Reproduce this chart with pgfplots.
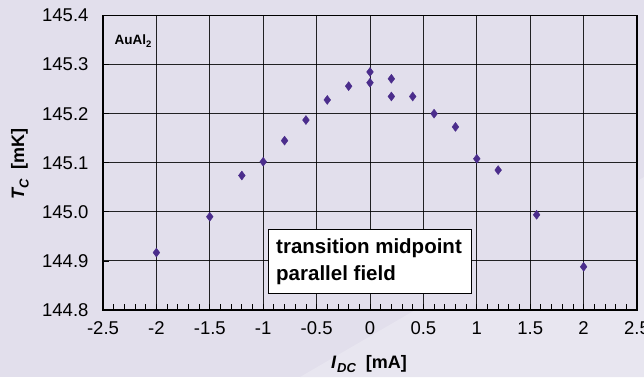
\documentclass[border=0pt]{standalone}
\usepackage{pgfplots}
\pgfplotsset{compat=1.18}
\usepackage{fontspec}
\setmainfont{Liberation Sans}
\definecolor{bg}{RGB}{226,223,236}
\definecolor{bglight}{RGB}{232,230,240}
\definecolor{mk}{RGB}{75,45,140}
\begin{document}
\begin{tikzpicture}
\path[use as bounding box] (0,0) rectangle (644pt,377pt);
\fill[bg] (0,0) rectangle (644pt,377pt);
\fill[bglight] (300pt,0pt) -- (644pt,0pt) -- (644pt,200pt) -- cycle;
\begin{axis}[
  at={(103pt,67pt)}, anchor=south west,
  width=534pt, height=294.5pt, scale only axis,
  xmin=-2.5, xmax=2.5, ymin=144.8, ymax=145.4,
  xtick={-2.5,-2,...,2.5},
  ytick={144.8,144.9,...,145.4},
  xticklabels={-2.5,-2,-1.5,-1,-0.5,0,0.5,1,1.5,2,2.5},
  yticklabels={144.8,144.9,145.0,145.1,145.2,145.3,145.4},
  minor x tick num=4, minor y tick num=4,
  xtick pos=bottom, ytick pos=left,
  tick align=inside,
  major tick length=6pt, minor tick length=6pt,
  every tick/.style={black, line width=0.8pt},
  grid=major,
  major grid style={black, line width=0.9pt, opacity=0.85},
  axis line style={black, line width=1.5pt},
  axis background/.style={fill=bg},
  tick label style={font=\fontsize{18.5}{20}\selectfont},
  /pgf/number format/assume math mode=true,
  yticklabel style={xshift=-11pt},
  xticklabel style={yshift=-8pt},
  clip=false,
]
\addplot[only marks, mark=diamond*, mark size=4.5pt, mark options={fill=mk, draw=mk}] coordinates {
(-2.0,144.917) (-1.5,144.990) (-1.2,145.074) (-1.0,145.102) (-0.8,145.145)
(-0.6,145.187) (-0.4,145.228) (-0.2,145.256) (0,145.285) (0,145.263)
(0.2,145.271) (0.2,145.235) (0.4,145.235) (0.6,145.200) (0.8,145.173)
(1.0,145.108) (1.2,145.085) (1.56,144.994) (2.0,144.888)
};
\draw[fill=white, draw=black, line width=0.8pt] (axis cs:-0.947,144.965) rectangle (axis cs:0.95,144.834);
\node[anchor=north west, align=left, inner sep=0pt, font=\fontsize{20.5}{26.7}\selectfont\bfseries]
  at (axis cs:-0.88,144.945) {transition midpoint\\parallel field};
\node[anchor=base west, inner sep=0pt, font=\fontsize{13.5}{15}\selectfont\bfseries]
  at (axis cs:-2.394,145.34) {AuAl$_{\mathbf{2}}$};
\end{axis}
\node[rotate=90, font=\fontsize{18}{20}\selectfont\bfseries] at (20pt,213pt)
  {\itshape T\kern0.5pt\raisebox{-0.25em}{\fontsize{13}{14}\selectfont C}\upshape\ \ [mK]};
\node[font=\fontsize{18}{20}\selectfont\bfseries] at (369pt,13pt)
  {\itshape I\kern1pt\raisebox{-0.25em}{\fontsize{13}{14}\selectfont DC}\upshape\ \ [mA]};
\end{tikzpicture}
\end{document}
